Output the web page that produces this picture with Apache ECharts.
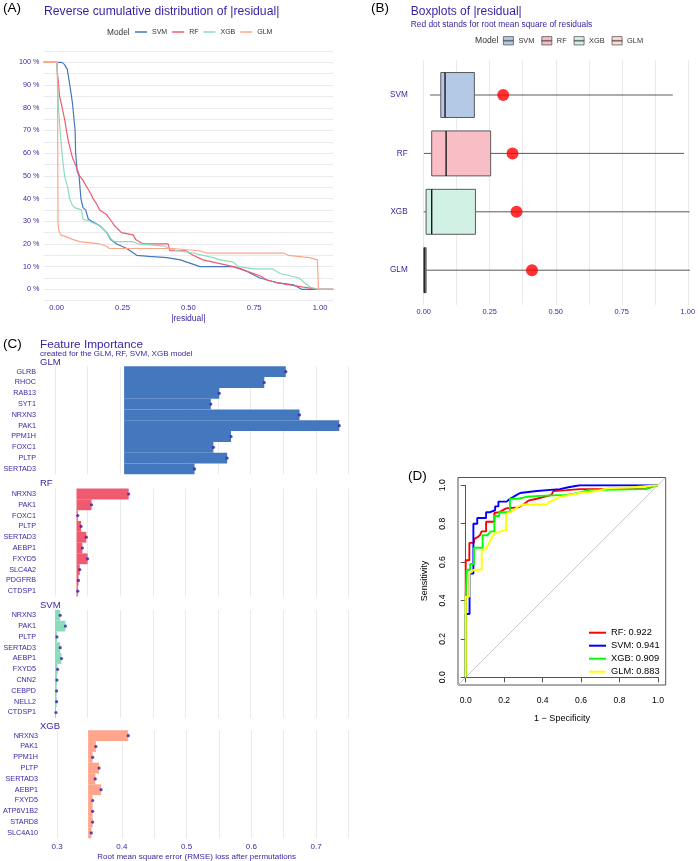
<!DOCTYPE html>
<html><head><meta charset="utf-8">
<script src="https://cdn.jsdelivr.net/npm/echarts@6/dist/echarts.min.js"></script>
<style>html,body{margin:0;padding:0;background:#fff}#c{width:698px;height:861px}</style>
</head><body><div id="c"></div>
<script>
const FONT = '"Liberation Sans", Arial, Helvetica, sans-serif';
const PURPLE = '#371ea3';
const GRID = '#e9e9ee';

// ---------- Panel A: reverse cumulative distribution of |residual| ----------
const modelsA = ['SVM', 'RF', 'XGB', 'GLM'];
const colorsA = ['#4378bf', '#f05a71', '#8bdcbe', '#ffa58c'];
const cdfSVM = [[-0.05,100],[0.02,100],[0.03,99],[0.04,97],[0.05,90],[0.06,82],[0.07,70],[0.072,60],[0.078,52],[0.085,50],[0.092,40],[0.1,36],[0.11,35],[0.12,31],[0.133,30],[0.164,28],[0.19,25],[0.205,22],[0.228,20],[0.266,18],[0.304,15],[0.35,14.5],[0.418,14],[0.47,13],[0.494,12],[0.52,11],[0.544,10],[0.671,10],[0.721,8],[0.772,5],[0.835,3],[0.899,2],[0.93,0],[1.05,0]];
const cdfRF = [[-0.05,100],[0,100],[0.003,95],[0.006,92],[0.011,85],[0.021,80],[0.03,75],[0.037,70],[0.045,65],[0.06,58],[0.071,55],[0.087,50],[0.1,48],[0.115,45],[0.13,42],[0.138,40],[0.15,38],[0.163,35],[0.189,33],[0.208,30],[0.22,28],[0.246,25],[0.29,24],[0.3,22],[0.328,20],[0.423,20],[0.43,17],[0.49,17],[0.518,15],[0.556,13],[0.594,12],[0.671,10],[0.7,9],[0.721,8],[0.772,6],[0.8,4],[0.835,3],[0.885,2],[0.937,1],[0.994,0],[1.05,0]];
const cdfXGB = [[-0.05,100],[0,100],[0.003,92],[0.005,85],[0.008,78],[0.013,70],[0.017,65],[0.02,60],[0.025,55],[0.03,50],[0.042,45],[0.049,40],[0.06,37],[0.068,36],[0.094,35],[0.1,31],[0.124,30],[0.163,28],[0.19,25],[0.208,22],[0.221,21],[0.29,21],[0.31,20],[0.41,19],[0.43,18],[0.46,17],[0.518,16],[0.556,15],[0.594,14],[0.62,13],[0.671,12],[0.69,10],[0.747,9],[0.82,9],[0.848,7],[0.885,6],[0.92,5],[0.94,3],[0.962,1],[0.994,0],[1.05,0]];
const cdfGLM = [[-0.05,100],[0.003,100],[0.005,30],[0.008,26],[0.015,24],[0.04,23],[0.06,22],[0.087,21],[0.163,20],[0.19,19],[0.2,18],[0.44,18],[0.54,17],[0.57,16],[0.86,16],[0.88,15],[0.96,14],[0.99,13],[0.994,0],[1.05,0]];
const cdfData = [cdfSVM, cdfRF, cdfXGB, cdfGLM];

// ---------- Panel B: boxplots of |residual| ----------
const boxModels = ['SVM', 'RF', 'XGB', 'GLM'];
const boxMin    = [0.024, 0.001, 0.000, 0.000];
const boxQ1     = [0.064, 0.030, 0.009, 0.000];
const boxMedian = [0.080, 0.084, 0.030, 0.004];
const boxQ3     = [0.190, 0.251, 0.194, 0.009];
const boxMax    = [0.934, 0.976, 0.997, 0.998];
const boxFill   = ['#b4c9e5', '#f9bdc6', '#d1f1e5', '#ffdbd1'];
const rmseModels = ['SVM', 'RF', 'XGB', 'GLM'];
const rmseValues = [0.298, 0.333, 0.348, 0.406];

// ---------- Panel C: feature importance ----------
const impGLMVars = ['GLRB','RHOC','RAB13','SYT1','NRXN3','PAK1','PPM1H','FOXC1','PLTP','SERTAD3'];
const impGLMLoss = [0.654,0.621,0.552,0.539,0.675,0.736,0.570,0.543,0.564,0.514];
const impRFVars = ['NRXN3','PAK1','FOXC1','PLTP','SERTAD3','AEBP1','FXYD5','SLC4A2','PDGFRB','CTDSP1'];
const impRFLoss = [0.413,0.356,0.335,0.340,0.348,0.342,0.350,0.338,0.336,0.335];
const impSVMVars = ['NRXN3','PAK1','PLTP','SERTAD3','AEBP1','FXYD5','CNN2','CEBPD','NELL2','CTDSP1'];
const impSVMLoss = [0.308,0.316,0.303,0.308,0.310,0.304,0.303,0.3025,0.3025,0.3015];
const impXGBVars = ['NRXN3','PAK1','PPM1H','PLTP','SERTAD3','AEBP1','FXYD5','ATP6V1B2','STARD8','SLC4A10'];
const impXGBLoss = [0.410,0.360,0.355,0.365,0.359,0.368,0.355,0.355,0.355,0.353];
const impModels = ['GLM', 'RF', 'SVM', 'XGB'];
const impColors = ['#4378bf', '#f05a71', '#8bdcbe', '#ffa58c'];
const impTicks = [0.3, 0.4, 0.5, 0.6, 0.7];

// ---------- Panel D: ROC ----------
const rocNames = ['RF: 0.922', 'SVM: 0.941', 'XGB: 0.909', 'GLM: 0.883'];
const rocColors = ['#ff0000', '#0000ff', '#00ff00', '#ffff00'];
const rocRF = [[0,0],[0,0.56],[0,0.61],[0.019,0.61],[0.019,0.70],[0.043,0.70],[0.043,0.72],[0.061,0.73],[0.074,0.74],[0.083,0.76],[0.106,0.76],[0.106,0.81],[0.149,0.81],[0.149,0.856],[0.175,0.86],[0.21,0.88],[0.274,0.885],[0.30,0.90],[0.326,0.92],[0.369,0.93],[0.447,0.95],[0.455,0.97],[0.525,0.975],[0.594,0.98],[0.932,0.98],[0.932,0.99],[0.99,1.0],[1,1]];
const rocSVM = [[0,0],[0,0.33],[0.02,0.33],[0.02,0.54],[0.04,0.54],[0.04,0.80],[0.06,0.80],[0.06,0.83],[0.106,0.83],[0.106,0.86],[0.127,0.86],[0.127,0.87],[0.153,0.87],[0.153,0.89],[0.17,0.89],[0.17,0.915],[0.213,0.915],[0.213,0.92],[0.23,0.93],[0.248,0.94],[0.265,0.95],[0.283,0.96],[0.326,0.965],[0.37,0.97],[0.49,0.98],[0.534,0.99],[0.594,1.0],[1,1]];
const rocXGB = [[0,0],[0,0.42],[0.005,0.56],[0.023,0.56],[0.023,0.59],[0.043,0.59],[0.043,0.675],[0.088,0.675],[0.088,0.74],[0.113,0.74],[0.113,0.75],[0.13,0.76],[0.149,0.76],[0.149,0.84],[0.175,0.84],[0.175,0.86],[0.23,0.86],[0.23,0.93],[0.274,0.93],[0.317,0.94],[0.386,0.945],[0.525,0.95],[0.586,0.96],[0.638,0.975],[0.93,0.98],[0.94,0.99],[1,1]];
const rocGLM = [[0,0],[0,0.42],[0.019,0.42],[0.019,0.54],[0.043,0.56],[0.083,0.56],[0.083,0.66],[0.106,0.67],[0.127,0.71],[0.149,0.75],[0.196,0.765],[0.21,0.765],[0.21,0.85],[0.248,0.87],[0.274,0.89],[0.30,0.90],[0.42,0.90],[0.44,0.915],[0.49,0.94],[0.594,0.96],[0.68,0.97],[0.74,0.985],[0.87,0.99],[1,1]];
const rocData = [rocRF, rocSVM, rocXGB, rocGLM];
const rocDiagonal = [[-0.04,-0.04],[1.04,1.04]];

// ================= build option =================
const chart = echarts.init(document.getElementById('c'), null, {renderer: 'canvas'});
const txt = (text, x, y, size, fill, extra) => Object.assign({
  type: 'text', x: x, y: y,
  style: Object.assign({text: text, fontSize: size, fontFamily: FONT, fill: fill, align: 'left', verticalAlign: 'middle'}, (extra && extra.style) || {})
}, extra ? {rotation: extra.rotation || 0} : {});

const grid = [
  {left: 43.5, top: 51, width: 289.7, height: 249.7},          // 0 A
  {left: 423.7, top: 60, width: 266.7, height: 245},           // 1 B background
  {left: 423.7, top: 36.6, width: 266.7, height: 292},         // 2 B main
  {left: 55, top: 366.3, width: 293.4, height: 108},           // 3 C GLM
  {left: 55, top: 488.6, width: 293.4, height: 108},           // 4 C RF
  {left: 55, top: 609.9, width: 293.4, height: 108},           // 5 C SVM
  {left: 55, top: 730.3, width: 293.4, height: 108},           // 6 C XGB
  {left: 458, top: 477.5, width: 207.7, height: 207.5, show: true, borderColor: '#555', borderWidth: 1, backgroundColor: 'transparent'}, // 7 D box
  {left: 465.7, top: 485.3, width: 192.3, height: 192}         // 8 D axes
];

const hidden = {show: false};
const xAxis = [];
const yAxis = [];
// A
xAxis.push({gridIndex: 0, type: 'value', min: -0.05, max: 1.05, interval: 0.05,
  axisLine: hidden, axisTick: hidden, splitLine: hidden,
  axisLabel: {fontSize: 7.6, fontFamily: FONT, color: PURPLE, margin: 3,
    formatter: v => { const k = Math.round(v * 100); return (k >= 0 && k <= 100 && k % 25 === 0) ? (k / 100).toFixed(2) : ''; }}});
yAxis.push({gridIndex: 0, type: 'value', min: -5, max: 105, interval: 5,
  axisLine: hidden, axisTick: hidden, splitLine: {show: true, lineStyle: {color: GRID, width: 1}},
  axisLabel: {fontSize: 7.2, fontFamily: FONT, color: PURPLE, margin: 4,
    formatter: v => { const k = Math.round(v); return (k >= 0 && k <= 100 && k % 10 === 0) ? k + ' %' : ''; }}});
// B background
xAxis.push({gridIndex: 1, type: 'value', min: 0, max: 1, interval: 0.125,
  axisLine: hidden, axisTick: hidden, splitLine: {show: true, lineStyle: {color: GRID, width: 1}},
  axisLabel: {fontSize: 7.4, fontFamily: FONT, color: PURPLE, margin: 3,
    formatter: v => { const k = Math.round(v * 1000); return k % 250 === 0 ? (k / 1000).toFixed(2) : ''; }}});
yAxis.push({gridIndex: 1, type: 'value', min: 0, max: 1, show: false});
// B main
xAxis.push({gridIndex: 2, type: 'value', min: 0, max: 1, show: false});
yAxis.push({gridIndex: 2, type: 'value', min: 0, max: 5, interval: 1, inverse: true,
  axisLine: hidden, axisTick: hidden, splitLine: hidden,
  axisLabel: {fontSize: 8.2, fontFamily: FONT, color: PURPLE, margin: 16,
    formatter: v => { const k = Math.round(v); return (k >= 1 && k <= boxModels.length) ? boxModels[k - 1] : ''; }}});
// C facets
const impVars = [impGLMVars, impRFVars, impSVMVars, impXGBVars];
const impLoss = [impGLMLoss, impRFLoss, impSVMLoss, impXGBLoss];
for (let f = 0; f < 4; f++) {
  xAxis.push({gridIndex: 3 + f, type: 'value', min: 0.3, max: 0.75, interval: 0.05,
    axisLine: hidden, axisTick: hidden, splitLine: {show: true, lineStyle: {color: GRID, width: 1}},
    axisLabel: {show: f === 3, fontSize: 8, fontFamily: FONT, color: PURPLE, margin: 4,
      formatter: v => { const k = Math.round(v * 100); return impTicks.some(t => Math.round(t * 100) === k) ? (k / 100).toFixed(1) : ''; }}});
  yAxis.push({gridIndex: 3 + f, type: 'category', data: impVars[f], inverse: true,
    axisLine: hidden, axisTick: hidden, splitLine: hidden,
    axisLabel: {fontSize: 7.2, fontFamily: FONT, color: PURPLE, margin: 19}});
}
// D box + axes
xAxis.push({gridIndex: 7, type: 'value', min: -0.04, max: 1.04, show: false});
yAxis.push({gridIndex: 7, type: 'value', min: -0.04, max: 1.04, show: false});
xAxis.push({gridIndex: 8, type: 'value', min: 0, max: 1, interval: 0.2, position: 'bottom', offset: 7.7,
  axisLine: {show: true, lineStyle: {color: '#555', width: 1}}, axisTick: {show: true, length: 5, lineStyle: {color: '#555'}},
  splitLine: hidden, axisLabel: {fontSize: 8.6, fontFamily: FONT, color: '#000', margin: 11, formatter: v => v.toFixed(1)}});
yAxis.push({gridIndex: 8, type: 'value', min: 0, max: 1, interval: 0.2, position: 'left', offset: 7.7,
  axisLine: {show: true, lineStyle: {color: '#555', width: 1}}, axisTick: {show: true, length: 5, lineStyle: {color: '#555'}},
  splitLine: hidden, axisLabel: {fontSize: 8.6, fontFamily: FONT, color: '#000', margin: 11, rotate: 90, formatter: v => v.toFixed(1)}});

const series = [];
// A lines
modelsA.forEach((m, i) => series.push({
  name: m, type: 'line', xAxisIndex: 0, yAxisIndex: 0, data: cdfData[i], showSymbol: false, symbol: 'none',
  lineStyle: {color: colorsA[i], width: 1.2}, itemStyle: {color: colorsA[i]}, z: 3
}));
// B placeholder for background grid
series.push({type: 'scatter', xAxisIndex: 1, yAxisIndex: 1, data: [], silent: true});
// B boxes
function boxRender(params, api) {
  const y = api.value(0);
  const pMin = api.coord([api.value(1), y]);
  const pQ1 = api.coord([api.value(2), y]);
  const pMd = api.coord([api.value(3), y]);
  const pQ3 = api.coord([api.value(4), y]);
  const pMx = api.coord([api.value(5), y]);
  const top = api.coord([0, y - 0.385])[1];
  const bot = api.coord([0, y + 0.385])[1];
  const stroke = '#5a5a5a';
  return {type: 'group', children: [
    {type: 'line', shape: {x1: pMin[0], y1: pMin[1], x2: pQ1[0], y2: pQ1[1]}, style: {stroke: stroke, lineWidth: 1}},
    {type: 'line', shape: {x1: pQ3[0], y1: pQ3[1], x2: pMx[0], y2: pMx[1]}, style: {stroke: stroke, lineWidth: 1}},
    {type: 'rect', shape: {x: pQ1[0], y: top, width: Math.max(pQ3[0] - pQ1[0], 1.5), height: bot - top},
      style: {fill: api.visual('color'), stroke: stroke, lineWidth: 1}},
    {type: 'line', shape: {x1: pMd[0], y1: top, x2: pMd[0], y2: bot}, style: {stroke: '#1a1a1a', lineWidth: 1.4}}
  ]};
}
boxModels.forEach((m, i) => series.push({
  name: m + ' box', type: 'custom', xAxisIndex: 2, yAxisIndex: 2, renderItem: boxRender,
  encode: {x: [1, 2, 3, 4, 5], y: 0},
  itemStyle: {color: boxFill[i], borderColor: '#5a5a5a'},
  data: [[i + 1, boxMin[i], boxQ1[i], boxMedian[i], boxQ3[i], boxMax[i]]], z: 3
}));
series.push({type: 'scatter', xAxisIndex: 2, yAxisIndex: 2, symbolSize: 12, z: 5,
  itemStyle: {color: '#ff0000'},
  data: boxModels.map((m, i) => [rmseValues[rmseModels.indexOf(m)], i + 1])});
// C bars
impModels.forEach((m, f) => {
  const base = rmseValues[rmseModels.indexOf(m)];
  series.push({type: 'bar', xAxisIndex: 3 + f, yAxisIndex: 3 + f, stack: 'imp' + f, silent: true,
    barCategoryGap: '0%', itemStyle: {color: 'rgba(0,0,0,0)'}, data: impVars[f].map(() => base)});
  series.push({name: m + ' importance', type: 'bar', xAxisIndex: 3 + f, yAxisIndex: 3 + f, stack: 'imp' + f,
    barCategoryGap: '0%', itemStyle: {color: impColors[f]}, data: impLoss[f].map(v => +(v - base).toFixed(4))});
  series.push({type: 'scatter', xAxisIndex: 3 + f, yAxisIndex: 3 + f, symbolSize: 3.2, z: 5,
    itemStyle: {color: PURPLE}, data: impLoss[f].map((v, i) => [v, i])});
});
// D
series.push({type: 'line', xAxisIndex: 7, yAxisIndex: 7, data: rocDiagonal, showSymbol: false, symbol: 'none',
  lineStyle: {color: '#c8c8c8', width: 1}, silent: true, z: 1});
series.push({type: 'scatter', xAxisIndex: 8, yAxisIndex: 8, data: [], silent: true});
rocNames.forEach((n, i) => series.push({
  name: n, type: 'line', xAxisIndex: 8, yAxisIndex: 8, data: rocData[i], showSymbol: false, symbol: 'none',
  lineStyle: {color: rocColors[i], width: 1.9}, itemStyle: {color: rocColors[i]}, z: 3 + i
}));

const boxIcon = 'path://M0,0L12,0L12,10L0,10Z M0,4.6L12,4.6L12,5.4L0,5.4Z';
const legend = [
  {left: 135, top: 28.5, padding: 0, itemWidth: 12, itemHeight: 1.5, itemGap: 5, icon: 'rect', selectedMode: false,
    data: modelsA, textStyle: {fontSize: 7, fontFamily: FONT, color: '#333'}},
  {left: 503, top: 36.2, padding: 0, itemWidth: 10, itemHeight: 9, itemGap: 7, selectedMode: false,
    data: boxModels.map((m, i) => ({name: m + ' box', icon: boxIcon, itemStyle: {color: boxFill[i], borderColor: '#5a5a5a', borderWidth: 0.8}})),
    formatter: n => n.replace(' box', ''), textStyle: {fontSize: 7.4, fontFamily: FONT, color: '#333'}},
  {left: 589, top: 626.2, padding: 0, orient: 'vertical', itemWidth: 17, itemHeight: 2, itemGap: 0, icon: 'rect', selectedMode: false,
    data: rocNames, textStyle: {fontSize: 9.3, fontFamily: FONT, color: '#000', lineHeight: 13}}
];

const graphic = [
  txt('(A)', 3, 8.5, 13.5, '#000'),
  txt('Reverse cumulative distribution of |residual|', 44, 12, 12.2, PURPLE),
  txt('Model', 107, 32.3, 8.3, '#333'),
  txt('|residual|', 188.3, 318.3, 8.5, PURPLE, {style: {align: 'center'}}),
  txt('(B)', 371, 8.5, 13.5, '#000'),
  txt('Boxplots of |residual|', 410.7, 11.7, 12, PURPLE),
  txt('Red dot stands for root mean square of residuals', 410.7, 25, 8.4, PURPLE),
  txt('Model', 475, 40.7, 8.6, '#333'),
  txt('(C)', 3, 344, 13.5, '#000'),
  txt('Feature Importance', 40, 344.3, 11.8, PURPLE),
  txt('created for the GLM, RF, SVM, XGB model', 40, 354.2, 8, PURPLE),
  txt('GLM', 40, 362, 9.5, PURPLE),
  txt('RF', 40, 483.5, 9.5, PURPLE),
  txt('SVM', 40, 605, 9.5, PURPLE),
  txt('XGB', 40, 726.7, 9.5, PURPLE),
  txt('Root mean square error (RMSE) loss after permutations', 196.7, 856.5, 8, PURPLE, {style: {align: 'center'}}),
  txt('(D)', 408, 476.7, 13.5, '#000'),
  txt('Sensitivity', 425, 581, 9, '#000', {style: {align: 'center'}, rotation: Math.PI / 2}),
  txt('1 \u2212 Specificity', 562, 718.7, 9, '#000', {style: {align: 'center'}})
];

chart.setOption({
  animation: false,
  backgroundColor: '#ffffff',
  textStyle: {fontFamily: FONT},
  grid, xAxis, yAxis, series, legend, graphic
});
</script>
</body></html>
